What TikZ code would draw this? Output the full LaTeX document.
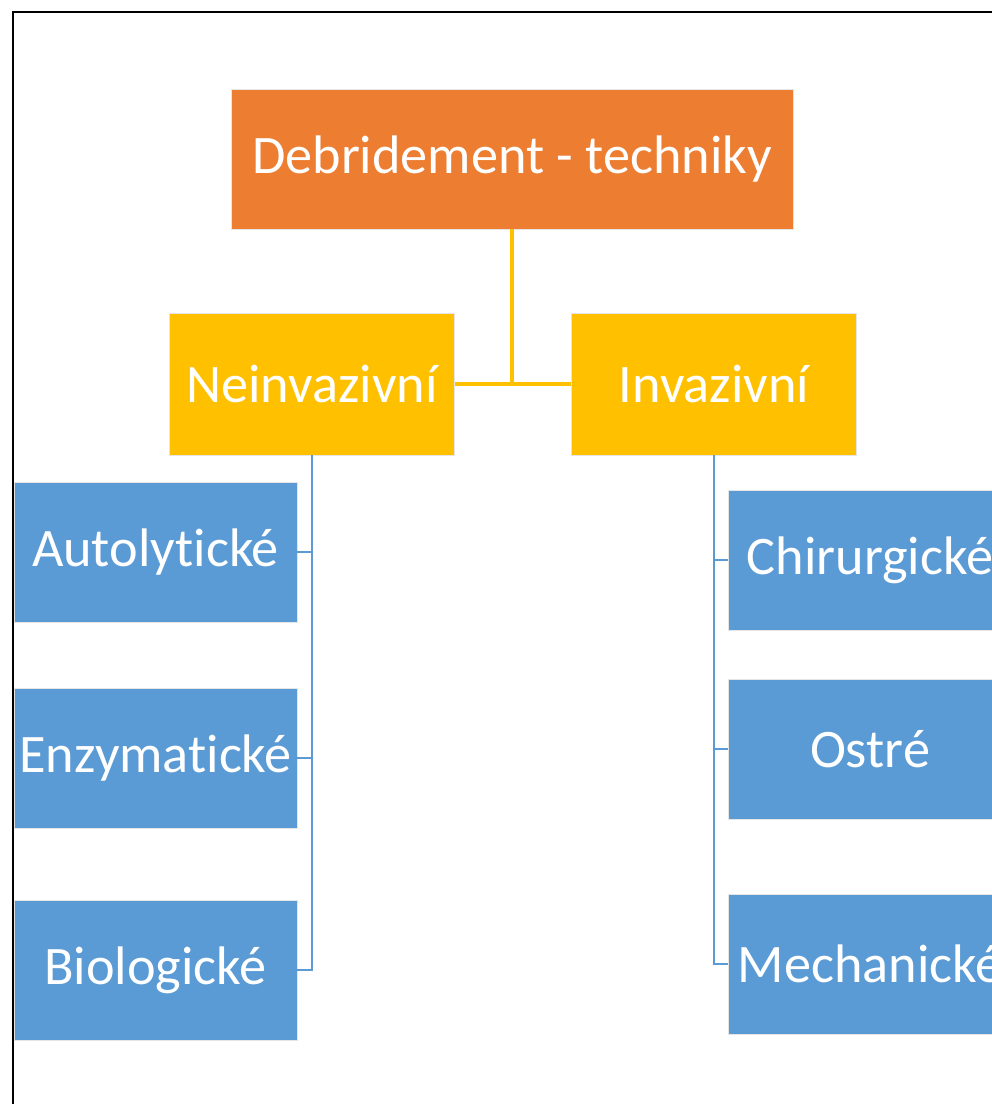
\documentclass[tikz,border=0pt]{standalone}
\usepackage{fontspec}
\setmainfont[Ligatures=NoCommon]{Carlito}

\definecolor{topfill}{HTML}{ED7D31}
\definecolor{midfill}{HTML}{FFC000}
\definecolor{leaffill}{HTML}{5B9BD5}

\tikzset{
	box/.style={rectangle, draw=white!90!black, line width=0.4pt, text=white,
		font=\fontsize{38.6}{44}\selectfont, inner sep=0pt},
	topbox/.style={box, fill=topfill, minimum width=14.05cm, minimum height=3.5cm},
	midbox/.style={box, fill=midfill, minimum width=7.12cm, minimum height=3.55cm},
	leafbox/.style={box, fill=leaffill, minimum width=7.08cm, minimum height=3.5cm},
	midline/.style={draw=midfill, line width=2.2pt},
	leafline/.style={draw=leaffill, line width=1.5pt}
}

\begin{document}
\begin{tikzpicture}
	\useasboundingbox (0, 0) rectangle (24.8, -27.6);
	\begin{scope}
		\clip (0, 0) rectangle (24.8, -27.6);
		\draw[line width=1.6pt] (0.325, -0.3) rectangle (26, -29);
	\end{scope}

	\node[topbox] (root) at (12.8, -3.975) {Debridement - techniky};

	\node[midbox] (nein) at (7.8, -9.6) {Neinvazivní};
	\node[midbox] (inv) at (17.85, -9.6) {Invazivní};

	\node[leafbox] (auto) at (3.8875, -13.8) {Autolytické};
	\node[leafbox] (enzy) at (3.8875, -18.95) {Enzymatické};
	\node[leafbox] (bio) at (3.8875, -24.25) {Biologické};

	\node[leafbox] (chir) at (21.75, -14.0) {Chirurgické};
	\node[leafbox] (ostr) at (21.75, -18.725) {Ostré};
	\node[leafbox] (mech) at (21.75, -24.1) {Mechanické};

	\draw[midline] (root.south) -- (root.south |- nein.east);
	\draw[midline] (nein.east) -- (inv.west);

	\draw[leafline] (nein.south) |- (bio.east);
	\draw[leafline] (auto.east) -- (auto.east -| nein.south);
	\draw[leafline] (enzy.east) -- (enzy.east -| nein.south);

	\draw[leafline] (inv.south) |- (mech.west);
	\draw[leafline] (chir.west) -- (chir.west -| inv.south);
	\draw[leafline] (ostr.west) -- (ostr.west -| inv.south);
\end{tikzpicture}
\end{document}
